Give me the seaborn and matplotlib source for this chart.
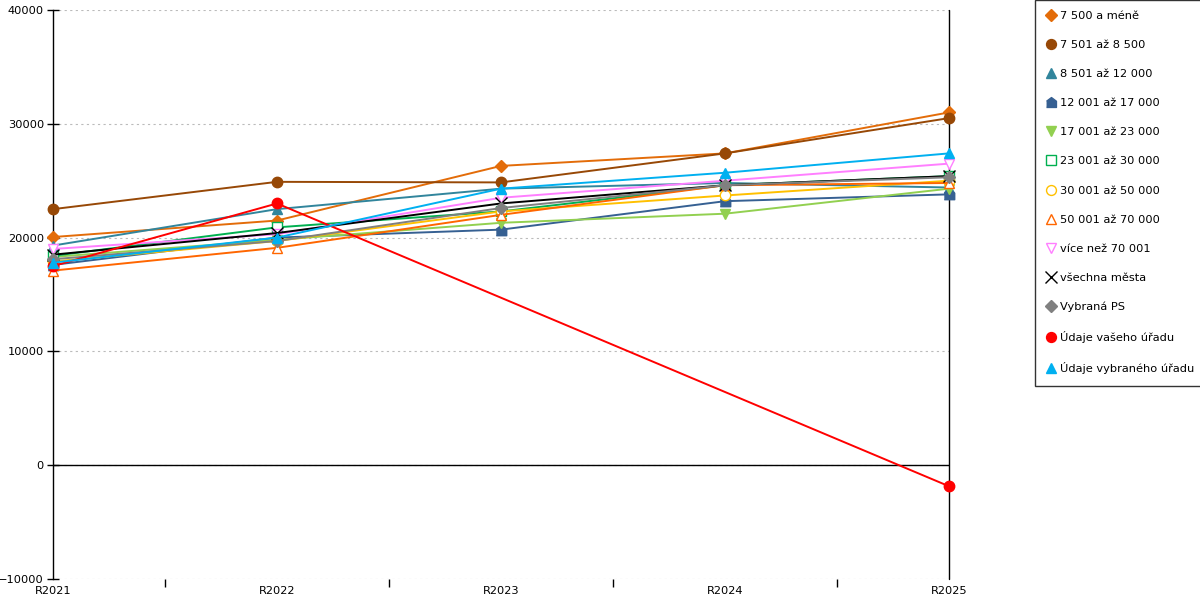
import numpy as np
import pandas as pd
import matplotlib
matplotlib.use("Agg")
import matplotlib.pyplot as plt
from matplotlib.lines import Line2D
from matplotlib.ticker import MultipleLocator
import seaborn as sns

# %%
years = ["R2021", "R2022", "R2023", "R2024", "R2025"]

names = [
    "7 500 a méně",
    "7 501 až 8 500",
    "8 501 až 12 000",
    "12 001 až 17 000",
    "17 001 až 23 000",
    "23 001 až 30 000",
    "30 001 až 50 000",
    "50 001 až 70 000",
    "více než 70 001",
    "všechna města",
    "Vybraná PS",
    "Údaje vašeho úřadu",
    "Údaje vybraného úřadu",
]

v_7500 = [20050, 21500, 26300, 27400, 31000]
v_8500 = [22500, 24900, 24850, 27400, 30500]
v_12000 = [19300, 22500, 24300, 24800, 24400]
v_17000 = [17600, 20000, 20700, 23200, 23800]
v_23000 = [18300, 19800, 21300, 22100, 24300]
v_30000 = [18400, 20900, 22300, 24600, 25400]
v_50000 = [17900, 19700, 22300, 23700, 25000]
v_70000 = [17100, 19100, 22000, 24600, 24800]
v_nad70 = [19000, 20300, 23500, 25000, 26500]
v_mesta = [18500, 20400, 23000, 24600, 25400]
v_ps = [18100, 19700, 22600, 24600, 25300]
v_vas = [17500, 23000, np.nan, np.nan, -1850]
v_vybr = [17800, 20000, 24300, 25700, 27400]

values = [v_7500, v_8500, v_12000, v_17000, v_23000, v_30000, v_50000,
          v_70000, v_nad70, v_mesta, v_ps, v_vas, v_vybr]

house = [(-1, -1), (1, -1), (1, 0.25), (0, 1), (-1, 0.25)]

# colour, marker, filled
styles = [
    ("#E36C09", "D", True),
    ("#974806", "o", True),
    ("#31859C", "^", True),
    ("#366092", house, True),
    ("#92D050", "v", True),
    ("#00B050", "s", False),
    ("#FFC000", "o", False),
    ("#FF6600", "^", False),
    ("#FF7FFF", "v", False),
    ("#000000", "x", True),
    ("#808080", "D", True),
    ("#FF0000", "o", True),
    ("#00B0F0", "^", True),
]

# %%
sns.set_style("white")
plt.rcParams["font.family"] = ["DejaVu Sans"]

fig = plt.figure(figsize=(12, 6), dpi=100)
ax = fig.add_axes([53 / 1200, 21 / 600, 896 / 1200, 569 / 600])

pos = np.arange(len(years))
handles = []
for name, vals, (col, mk, filled) in zip(names, values, styles):
    df = pd.DataFrame({"x": pos, "y": vals}).dropna()
    ms = 7.5 if mk != "D" else 6
    if mk == "x":
        ms = 9
    sns.lineplot(data=df, x="x", y="y", ax=ax, color=col, marker=mk,
                 markersize=ms, mec=col, mfc=col if filled else "white",
                 mew=1.0, linewidth=1.4, clip_on=False, zorder=3)
    handles.append(Line2D([], [], color=col, marker=mk, linestyle="none",
                          markersize=ms * 0.95, mec=col,
                          mfc=col if filled else "white", mew=1.0, label=name))

ax.set_xlim(0, 4)
ax.set_ylim(-10000, 40000)
ax.yaxis.set_major_locator(MultipleLocator(10000))
ax.set_xticks(pos)
ax.set_xticklabels(years)
ax.xaxis.set_minor_locator(MultipleLocator(0.5))
ax.set_xlabel("")
ax.set_ylabel("")

ax.grid(axis="y", color="#bbbbbb", linestyle=(0, (2, 3)), linewidth=0.8)
ax.set_axisbelow(True)
for s in ["top", "right", "bottom"]:
    ax.spines[s].set_visible(False)
ax.spines["left"].set_color("black")
ax.spines["left"].set_linewidth(1.0)
ax.axhline(0, color="black", linewidth=1.0, zorder=2)
ax.axvline(4, color="black", linewidth=1.0, zorder=2, clip_on=False)

ax.tick_params(axis="y", direction="inout", length=9, width=1, colors="black",
               labelsize=8.2, pad=2, left=True)
ax.tick_params(axis="x", which="both", direction="out", length=6, width=1,
               colors="black", labelsize=8.2, bottom=True)
ax.tick_params(axis="x", which="major", length=0, pad=5)

leg = fig.legend(handles=handles, loc="upper left",
                 bbox_to_anchor=(1035 / 1200, 1.0), frameon=True,
                 fancybox=False, edgecolor="black", fontsize=8.2,
                 labelcolor="black",
                 handlelength=0.8, handletextpad=0.4, labelspacing=1.67,
                 borderpad=1.0, borderaxespad=0)
leg.get_frame().set_linewidth(1.0)

fig.savefig("out.png", dpi=100)
